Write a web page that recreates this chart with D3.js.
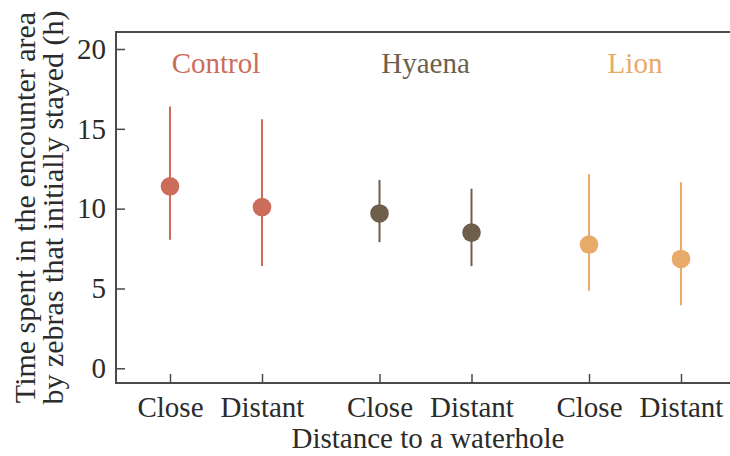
<!DOCTYPE html>
<html>
<head>
<meta charset="utf-8">
<script src="https://cdn.jsdelivr.net/npm/d3@7"></script>
<style>
  body { margin: 0; background: #fff; }
  svg text { font-family: "Liberation Serif", "DejaVu Serif", serif; fill: #2b2b2b; }
</style>
</head>
<body>
<svg id="chart" width="730" height="456"></svg>
<script>
// zebra encounter chart - mean with error bars per treatment
var groups = ["Control", "Hyaena", "Lion"];
var distances = ["Close", "Distant"];
var groupColors = ["#cc6c5a", "#6d5f4c", "#e8aa68"];
var means = [[11.4, 10.1], [9.7, 8.5], [7.75, 6.85]];
var upper = [[16.4, 15.6], [11.8, 11.25], [12.15, 11.65]];
var lower = [[8.05, 6.4], [7.9, 6.4], [4.85, 3.95]];
var yTicks = [0, 5, 10, 15, 20];

var margin = { left: 116, top: 32, bottom: 383, right: 730 };

var svg = d3.select("#chart");

var y = d3.scaleLinear().domain([0, 20]).range([368.3, 49]);
var xGroup = d3.scalePoint().domain(groups).range([216, 635]);
var xSub = d3.scalePoint().domain(distances).range([-46, 46]);

var points = [];
groups.forEach(function (g, i) {
  distances.forEach(function (d, j) {
    points.push({ group: g, dist: d, color: groupColors[i],
      mean: means[i][j], hi: upper[i][j], lo: lower[i][j] });
  });
});

// frame: left, top and bottom lines
var frame = svg.append("g").attr("stroke", "#4a4a4a").attr("stroke-width", 2);
frame.append("line").attr("x1", margin.left).attr("x2", margin.left)
  .attr("y1", margin.top).attr("y2", margin.bottom);
frame.append("line").attr("x1", margin.left - 1).attr("x2", margin.right)
  .attr("y1", margin.top).attr("y2", margin.top);
frame.append("line").attr("x1", margin.left - 1).attr("x2", margin.right)
  .attr("y1", margin.bottom).attr("y2", margin.bottom);

// y axis with inward ticks
var yAxis = d3.axisLeft(y).tickValues(yTicks).tickSizeInner(-9).tickSizeOuter(0).tickPadding(10);
var gy = svg.append("g").attr("transform", "translate(" + margin.left + ",0)").call(yAxis);
gy.select(".domain").remove();
gy.selectAll(".tick line").attr("stroke", "#4a4a4a").attr("stroke-width", 1.5);
gy.selectAll(".tick text").attr("font-size", 29).attr("font-family", null).attr("fill", null);

// x axis: one small axis per group
groups.forEach(function (g) {
  var gx = svg.append("g")
    .attr("transform", "translate(" + xGroup(g) + "," + margin.bottom + ")")
    .call(d3.axisBottom(xSub).tickSizeInner(-9).tickSizeOuter(0).tickPadding(13));
  gx.select(".domain").remove();
  gx.selectAll(".tick line").attr("stroke", "#4a4a4a").attr("stroke-width", 1.5);
  gx.selectAll(".tick text").attr("font-size", 29).attr("font-family", null).attr("fill", null);
});

// group labels
svg.selectAll(".grp-label")
  .data(groups)
  .enter().append("text")
  .attr("class", "grp-label")
  .attr("x", function (d) { return xGroup(d); })
  .attr("y", 73)
  .attr("text-anchor", "middle")
  .attr("font-size", 29)
  .style("fill", function (d, i) { return groupColors[i]; })
  .text(function (d) { return d; });

// error bars
svg.selectAll(".err")
  .data(points)
  .enter().append("line")
  .attr("class", "err")
  .attr("x1", function (d) { return xGroup(d.group) + xSub(d.dist); })
  .attr("x2", function (d) { return xGroup(d.group) + xSub(d.dist); })
  .attr("y1", function (d) { return y(d.hi); })
  .attr("y2", function (d) { return y(d.lo); })
  .attr("stroke", function (d) { return d.color; })
  .attr("stroke-width", 2);

// means
svg.selectAll(".mean")
  .data(points)
  .enter().append("circle")
  .attr("class", "mean")
  .attr("cx", function (d) { return xGroup(d.group) + xSub(d.dist); })
  .attr("cy", function (d) { return y(d.mean); })
  .attr("r", 9.3)
  .attr("fill", function (d) { return d.color; });

// axis titles
svg.append("text")
  .attr("x", 428).attr("y", 448)
  .attr("text-anchor", "middle")
  .attr("font-size", 29)
  .text("Distance to a waterhole");

var yTitle = svg.append("text")
  .attr("transform", "translate(0,207.5) rotate(-90)")
  .attr("text-anchor", "middle")
  .attr("font-size", 30);
yTitle.append("tspan").attr("x", 0).attr("y", 35).text("Time spent in the encounter area");
yTitle.append("tspan").attr("x", 0).attr("y", 63).text("by zebras that initially stayed (h)");
</script>
</body>
</html>
